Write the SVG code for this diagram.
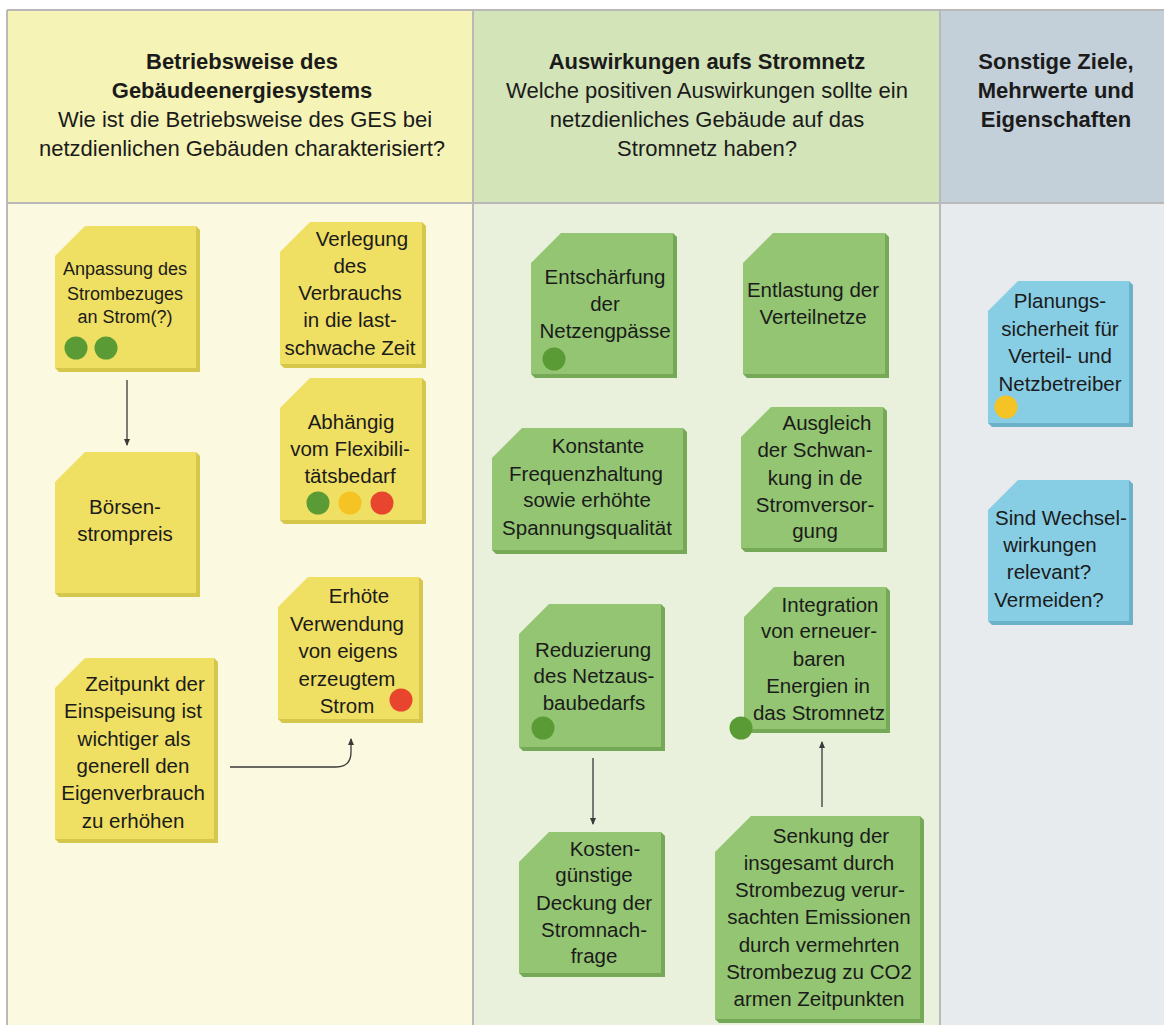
<svg xmlns="http://www.w3.org/2000/svg" width="1164" height="1027" viewBox="0 0 1164 1027">
<defs>
<style>
.t{font-family:"Liberation Sans",Arial,sans-serif;font-size:20.5px;fill:#1b1b1b;text-anchor:middle}
.ts{font-size:18px}
.h{font-family:"Liberation Sans",Arial,sans-serif;font-size:22px;fill:#1b1b1b;text-anchor:middle}
.hb{font-weight:bold}
.yf{fill:#efdf62}.ys{fill:#d5c64c}
.gf{fill:#93c572}.gs{fill:#76a957}
.bf{fill:#87cde4}.bs{fill:#6cb1c7}
.dg{fill:#5b9b35}.dy{fill:#f6c324}.dr{fill:#e8452f}
.sep{stroke:#b9b9b9;stroke-width:2;fill:none}
.conn{stroke:#3a3a3a;stroke-width:1.3;fill:none}
</style>
<marker id="ah" markerUnits="userSpaceOnUse" markerWidth="7" markerHeight="6" refX="6" refY="3" orient="auto">
<path d="M0,0 L7,3 L0,6 z" fill="#3a3a3a"/>
</marker>
</defs>
<rect x="0" y="0" width="1164" height="1027" fill="#ffffff"/>
<g id="panels">
<rect x="8" y="11" width="465" height="192" fill="#f5f3b5"/>
<rect x="473" y="11" width="467" height="192" fill="#d3e4b8"/>
<rect x="940" y="11" width="224" height="192" fill="#c3cfd9"/>
<rect x="8" y="203" width="465" height="822" fill="#fbf9df"/>
<rect x="473" y="203" width="467" height="822" fill="#e9f1dd"/>
<rect x="940" y="203" width="224" height="822" fill="#e7ebee"/>
<path class="sep" d="M7,10 H1164 M7,10 V1025 M473,10 V1025 M940,10 V1025 M7,203 H1164"/>
</g>
<g id="headers">
<text class="h hb" x="242" y="69">Betriebsweise des</text>
<text class="h hb" x="242" y="98">Gebäudeenergiesystems</text>
<text class="h" x="245" y="127">Wie ist die Betriebsweise des GES bei</text>
<text class="h" x="242" y="156">netzdienlichen Gebäuden charakterisiert?</text>
<text class="h hb" x="707" y="69">Auswirkungen aufs Stromnetz</text>
<text class="h" x="707" y="98">Welche positiven Auswirkungen sollte ein</text>
<text class="h" x="707" y="127">netzdienliches Gebäude auf das</text>
<text class="h" x="707" y="156">Stromnetz haben?</text>
<text class="h hb" x="1056" y="69">Sonstige Ziele,</text>
<text class="h hb" x="1056" y="98">Mehrwerte und</text>
<text class="h hb" x="1056" y="127">Eigenschaften</text>
</g>
<g id="connectors">
<path class="conn" d="M127,380 V445" marker-end="url(#ah)"/>
<path class="conn" d="M230,767 H336 Q351,767 351,752 V739" marker-end="url(#ah)"/>
<path class="conn" d="M593,758 V824" marker-end="url(#ah)"/>
<path class="conn" d="M822,807 V742" marker-end="url(#ah)"/>
</g>
<g id="n1">
<polygon class="ys" points="196,226 200,230 200,372 59,372 55,368"/>
<polygon class="yf" points="85,226 196,226 196,368 55,368 55,256"/>
<text class="t ts" x="125" y="275">Anpassung des</text>
<text class="t ts" x="125" y="300">Strombezuges</text>
<text class="t ts" x="125" y="323">an Strom(?)</text>
<circle class="dg" cx="76" cy="348" r="11.5"/>
<circle class="dg" cx="106" cy="348" r="11.5"/>
</g>
<g id="n2">
<polygon class="ys" points="422,222 426,226 426,368 284,368 280,364"/>
<polygon class="yf" points="310,222 422,222 422,364 280,364 280,252"/>
<text class="t" x="362" y="246">Verlegung</text>
<text class="t" x="350" y="273">des</text>
<text class="t" x="350" y="300">Verbrauchs</text>
<text class="t" x="350" y="327">in die last-</text>
<text class="t" x="350" y="355">schwache Zeit</text>
</g>
<g id="n3">
<polygon class="ys" points="422,378 426,382 426,524 284,524 280,520"/>
<polygon class="yf" points="310,378 422,378 422,520 280,520 280,408"/>
<text class="t" x="351" y="429">Abhängig</text>
<text class="t" x="350" y="456">vom Flexibili-</text>
<text class="t" x="350" y="483">tätsbedarf</text>
<circle class="dg" cx="318" cy="503" r="11.5"/>
<circle class="dy" cx="350" cy="503" r="11.5"/>
<circle class="dr" cx="382" cy="503" r="11.5"/>
</g>
<g id="n4">
<polygon class="ys" points="196,452 200,456 200,597 59,597 55,593"/>
<polygon class="yf" points="85,452 196,452 196,593 55,593 55,482"/>
<text class="t" x="125" y="514">Börsen-</text>
<text class="t" x="125" y="541">strompreis</text>
</g>
<g id="n5">
<polygon class="ys" points="419,577 423,581 423,723 282,723 278,719"/>
<polygon class="yf" points="308,577 419,577 419,719 278,719 278,607"/>
<text class="t" x="359" y="603">Erhöte</text>
<text class="t" x="347" y="631">Verwendung</text>
<text class="t" x="348" y="658">von eigens</text>
<text class="t" x="347" y="686">erzeugtem</text>
<text class="t" x="347" y="713">Strom</text>
<circle class="dr" cx="401" cy="700" r="11.5"/>
</g>
<g id="n6">
<polygon class="ys" points="214,658 218,662 218,843 59,843 55,839"/>
<polygon class="yf" points="85,658 214,658 214,839 55,839 55,688"/>
<text class="t" x="145" y="691">Zeitpunkt der</text>
<text class="t" x="133" y="718">Einspeisung ist</text>
<text class="t" x="134" y="746">wichtiger als</text>
<text class="t" x="133" y="773">generell den</text>
<text class="t" x="133" y="800">Eigenverbrauch</text>
<text class="t" x="133" y="828">zu erhöhen</text>
</g>
<g id="n7">
<polygon class="gs" points="673,233 677,237 677,378 535,378 531,374"/>
<polygon class="gf" points="561,233 673,233 673,374 531,374 531,263"/>
<text class="t" x="605" y="284">Entschärfung</text>
<text class="t" x="605" y="311">der</text>
<text class="t" x="605" y="338">Netzengpässe</text>
<circle class="dg" cx="554" cy="359" r="11.5"/>
</g>
<g id="n8">
<polygon class="gs" points="885,233 889,237 889,378 747,378 743,374"/>
<polygon class="gf" points="773,233 885,233 885,374 743,374 743,263"/>
<text class="t" x="813" y="297">Entlastung der</text>
<text class="t" x="813" y="324">Verteilnetze</text>
</g>
<g id="n9">
<polygon class="gs" points="683,428 687,432 687,554 496,554 492,550"/>
<polygon class="gf" points="522,428 683,428 683,550 492,550 492,458"/>
<text class="t" x="598" y="453">Konstante</text>
<text class="t" x="586" y="481">Frequenzhaltung</text>
<text class="t" x="587" y="507">sowie erhöhte</text>
<text class="t" x="587" y="535">Spannungsqualität</text>
</g>
<g id="n10">
<polygon class="gs" points="883,407 887,411 887,552 745,552 741,548"/>
<polygon class="gf" points="771,407 883,407 883,548 741,548 741,437"/>
<text class="t" x="827" y="430">Ausgleich</text>
<text class="t" x="815" y="457">der Schwan-</text>
<text class="t" x="815" y="485">kung in de</text>
<text class="t" x="815" y="512">Stromversor-</text>
<text class="t" x="815" y="538">gung</text>
</g>
<g id="n11">
<polygon class="gs" points="661,604 665,608 665,751 523,751 519,747"/>
<polygon class="gf" points="549,604 661,604 661,747 519,747 519,634"/>
<text class="t" x="593" y="657">Reduzierung</text>
<text class="t" x="594" y="683">des Netzaus-</text>
<text class="t" x="594" y="710">baubedarfs</text>
<circle class="dg" cx="543" cy="728" r="11.5"/>
</g>
<g id="n12">
<polygon class="gs" points="886,587 890,591 890,733 748,733 744,729"/>
<polygon class="gf" points="774,587 886,587 886,729 744,729 744,617"/>
<text class="t" x="830" y="612">Integration</text>
<text class="t" x="819" y="638">von erneuer-</text>
<text class="t" x="819" y="666">baren</text>
<text class="t" x="818" y="693">Energien in</text>
<text class="t" x="819" y="720">das Stromnetz</text>
<circle class="dg" cx="741" cy="728" r="11.5"/>
</g>
<g id="n13">
<polygon class="gs" points="661,832 665,836 665,977 523,977 519,973"/>
<polygon class="gf" points="549,832 661,832 661,973 519,973 519,862"/>
<text class="t" x="605" y="856">Kosten-</text>
<text class="t" x="594" y="882">günstige</text>
<text class="t" x="594" y="910">Deckung der</text>
<text class="t" x="594" y="937">Stromnach-</text>
<text class="t" x="594" y="963">frage</text>
</g>
<g id="n14">
<polygon class="gs" points="920,816 924,820 924,1023 719,1023 715,1019"/>
<polygon class="gf" points="751,816 920,816 920,1019 715,1019 715,852"/>
<text class="t" x="831" y="843">Senkung der</text>
<text class="t" x="819" y="870">insgesamt durch</text>
<text class="t" x="820" y="897">Strombezug verur-</text>
<text class="t" x="819" y="924">sachten Emissionen</text>
<text class="t" x="819" y="952">durch vermehrten</text>
<text class="t" x="819" y="979">Strombezug zu CO2</text>
<text class="t" x="819" y="1006">armen Zeitpunkten</text>
</g>
<g id="n15">
<polygon class="bs" points="1129,281 1133,285 1133,427 992,427 988,423"/>
<polygon class="bf" points="1018,281 1129,281 1129,423 988,423 988,311"/>
<text class="t" x="1060" y="308">Planungs-</text>
<text class="t" x="1060" y="336">sicherheit für</text>
<text class="t" x="1060" y="363">Verteil- und</text>
<text class="t" x="1060" y="391">Netzbetreiber</text>
<circle class="dy" cx="1006" cy="407" r="11.5"/>
</g>
<g id="n16">
<polygon class="bs" points="1129,480 1133,484 1133,625 992,625 988,621"/>
<polygon class="bf" points="1018,480 1129,480 1129,621 988,621 988,510"/>
<text class="t" x="1061" y="525">Sind Wechsel-</text>
<text class="t" x="1050" y="552">wirkungen</text>
<text class="t" x="1049" y="579">relevant?</text>
<text class="t" x="1049" y="607">Vermeiden?</text>
</g>
</svg>
